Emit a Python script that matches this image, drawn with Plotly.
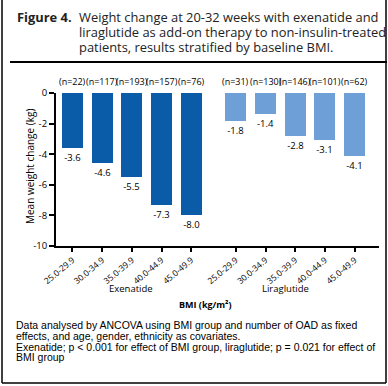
import plotly.graph_objects as go

bmi_groups = ["25.0-29.9", "30.0-34.9", "35.0-39.9", "40.0-44.9", "45.0-49.9"]
exenatide_values = [-3.6, -4.6, -5.5, -7.3, -8.0]
exenatide_n = [22, 117, 193, 157, 76]
liraglutide_values = [-1.8, -1.4, -2.8, -3.1, -4.1]
liraglutide_n = [31, 130, 146, 101, 62]
exenatide_pos = [0, 1, 2, 3, 4]
liraglutide_pos = [5.5, 6.5, 7.5, 8.5, 9.5]
y_tickvals = [0, -2, -4, -6, -8, -10]
y_ticktext = ["0", "-2", "-4", "-6", "-8", "-10"]

W, H = 388, 386
L, R, T, B = 56, 9, 93, 140
PW, PH = W - L - R, H - T - B

def px(x):
    return (x - L) / PW

def py(y):
    return (H - B - y) / PH

FONT = "Open Sans"
BODY = "Liberation Sans"

fig = go.Figure()
fig.add_trace(go.Bar(
    x=exenatide_pos, y=exenatide_values, width=0.71,
    marker=dict(color="#0A5CA8", line=dict(width=0)),
    text=[f"{v:.1f}" for v in exenatide_values], textposition="outside",
    textfont=dict(family=FONT, size=9.5, color="black"),
    constraintext="none", cliponaxis=False, showlegend=False,
))
fig.add_trace(go.Bar(
    x=liraglutide_pos, y=liraglutide_values, width=0.71,
    marker=dict(color="#6E9FD6", line=dict(width=0)),
    text=[f"{v:.1f}" for v in liraglutide_values], textposition="outside",
    textfont=dict(family=FONT, size=9.5, color="black"),
    constraintext="none", cliponaxis=False, showlegend=False,
))

def note(x, y, text, size, family=FONT, xanchor="center", color="black", angle=0):
    return dict(x=px(x), y=py(y), xref="paper", yref="paper", text=text, showarrow=False,
                xanchor=xanchor, yanchor="middle", textangle=angle,
                font=dict(family=family, size=size, color=color))

annotations = []
for pos, n in zip(exenatide_pos + liraglutide_pos, exenatide_n + liraglutide_n):
    annotations.append(dict(x=pos, y=0, xref="x", yref="y", text=f"(n={n})",
                            showarrow=False, xanchor="center", yanchor="bottom", yshift=3,
                            font=dict(family=FONT, size=9, color="black")))

annotations.append(note(131, 288, "Exenatide", 9.5))
annotations.append(note(285, 288, "Liraglutide", 9.5))
annotations.append(note(205, 304, "<b>BMI (kg/m²)</b>", 9))
annotations.append(note(30, 167, "Mean weight change (kg)", 10, angle=-90))

annotations.append(note(15, 17, "<b>Figure 4.</b>", 12.9, xanchor="left", color="#222"))
title_lines = ["Weight change at 20-32 weeks with exenatide and",
               "liraglutide as add-on therapy to non-insulin-treated",
               "patients, results stratified by baseline BMI."]
for i, line in enumerate(title_lines):
    annotations.append(note(77, 17 + 15 * i, line, 12.9, xanchor="left", color="#222"))

foot_lines = ["Data analysed by ANCOVA using BMI group and number of OAD as fixed",
              "effects, and age, gender, ethnicity as covariates.",
              "Exenatide; p < 0.001 for effect of BMI group, liraglutide; p = 0.021 for effect of",
              "BMI group"]
for i, line in enumerate(foot_lines):
    annotations.append(note(14, 325 + 10.8 * i, line, 10.5, family=BODY, xanchor="left"))

shapes = [
    dict(type="line", xref="paper", yref="paper", x0=px(10), x1=px(387), y0=py(62), y1=py(62),
         line=dict(color="black", width=2)),
    dict(type="line", xref="paper", yref="paper", x0=px(2), x1=px(2), y0=py(0), y1=py(383),
         line=dict(color="black", width=1.5)),
    dict(type="line", xref="paper", yref="paper", x0=px(386), x1=px(386), y0=py(0), y1=py(383),
         line=dict(color="black", width=1.5)),
    dict(type="line", xref="paper", yref="paper", x0=px(2), x1=px(386), y0=py(383), y1=py(383),
         line=dict(color="black", width=1.5)),
]

fig.update_layout(
    width=W, height=H, autosize=False, margin=dict(l=L, r=R, t=T, b=B, pad=0),
    paper_bgcolor="white", plot_bgcolor="white",
    annotations=annotations, shapes=shapes, bargap=0,
    font=dict(family=FONT, color="black"),
)
fig.update_xaxes(
    range=[-0.555, 10.32], tickvals=exenatide_pos + liraglutide_pos, ticktext=bmi_groups * 2,
    tickangle=-40, ticks="outside", ticklen=4, tickwidth=1.5, tickcolor="black",
    showline=True, linecolor="black", linewidth=2, showgrid=False, zeroline=False,
    tickfont=dict(family=FONT, size=8.5, color="black"), fixedrange=True, automargin=False,
)
fig.update_yaxes(
    range=[-10, 0], tickvals=y_tickvals, ticktext=y_ticktext,
    ticks="outside", ticklen=5, tickwidth=1.5, tickcolor="black",
    showline=True, linecolor="black", linewidth=2, showgrid=False, zeroline=False,
    tickfont=dict(family=FONT, size=9.5, color="black"), fixedrange=True, automargin=False,
)
fig.write_html("out.html", config={"displayModeBar": False, "responsive": False},
               post_script="document.body.style.margin='0';document.body.style.padding='0';document.body.style.overflow='hidden';document.documentElement.style.overflow='hidden';")
